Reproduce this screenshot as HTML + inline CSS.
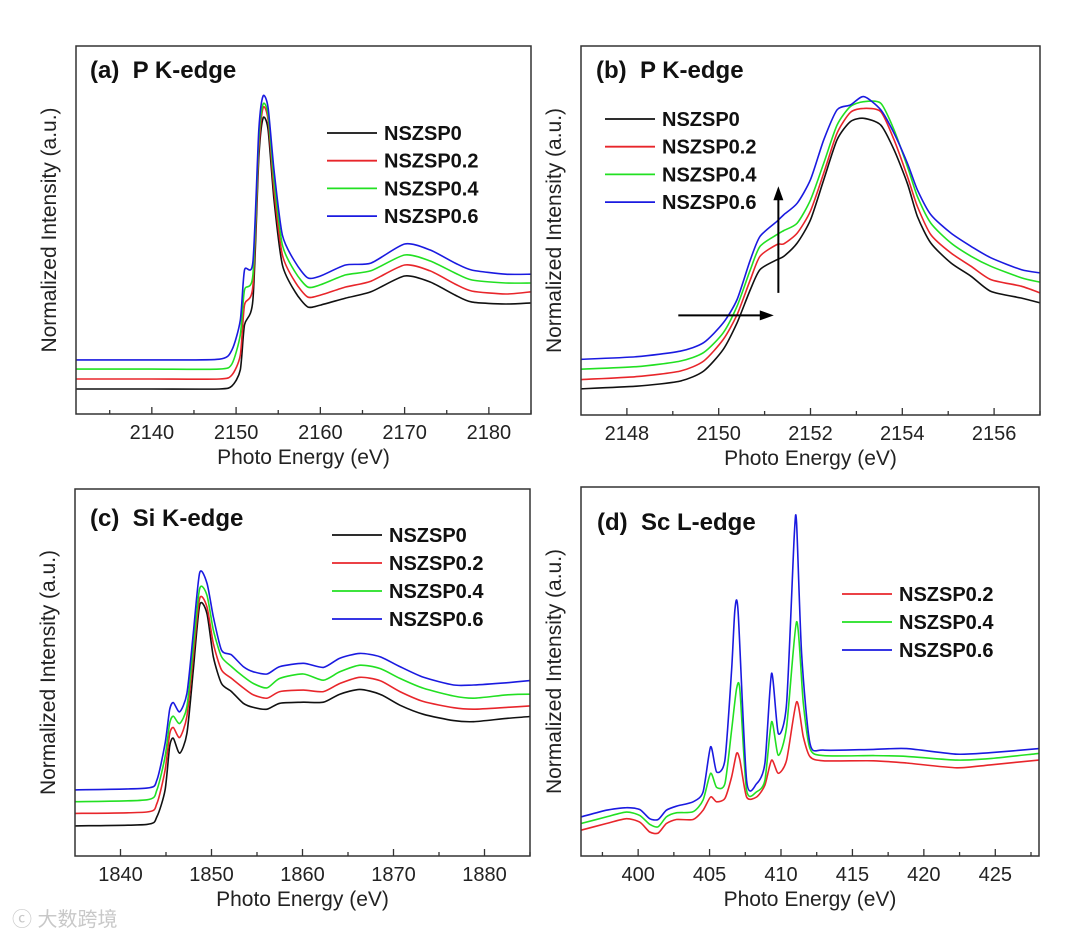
<!DOCTYPE html>
<html><head><meta charset="utf-8"><style>
html,body{margin:0;padding:0;background:#fff;}
svg{display:block;font-family:"Liberation Sans",Arial,sans-serif;}
</style></head><body>
<svg id="fig" width="1080" height="939" viewBox="0 0 1080 939" xmlns="http://www.w3.org/2000/svg">
<text x="12" y="926" font-family="'Liberation Sans','Noto Sans CJK SC',sans-serif" font-size="20" fill="#c8c8c8">ⓒ 大数跨境</text>
</svg>
<script>
// ---- Panel (a) P K-edge ----
const aX = [2131,2140,2148,2149.5,2150.5,2151,2152,2152.7,2153.2,2153.8,2154.5,2155.5,2157,2158.5,2160,2163,2166,2170,2173,2176,2178,2182,2185];
const aBlack = [6.8,6.8,6.8,7.6,12,24.2,31,69.6,80.4,77.2,58.2,40.5,33.2,29.1,29.6,31.5,33.2,37.5,35.9,32.3,30.4,29.9,30.2];
const aRed = [9.5,9.5,9.5,10.6,16,29.6,34.8,71.7,83.2,79.9,60.9,43.2,35.9,31.8,32.3,34.5,36.1,40.5,38.9,35.3,33.4,32.6,33.2];
const aGreen = [12.2,12.2,12.2,13.6,21.5,33.7,37.8,74.5,84.2,81.3,63.6,45.9,38.6,34.5,35.1,37.8,38.9,43.2,41.6,38.3,36.4,35.6,35.6];
const aBlue = [14.7,14.7,14.9,17.4,25.5,39.1,41.3,77.2,86.4,83.2,66.3,48.6,41.3,37,37.5,40.5,41,46.2,44.6,41,39.1,38,38];
const aTicks = [2140,2150,2160,2170,2180];
// ---- Panel (b) P K-edge zoom ----
const bX = [2147,2148.21,2149.16,2149.67,2150.1,2150.4,2150.69,2150.9,2151.27,2151.42,2151.71,2152,2152.29,2152.58,2152.87,2153.16,2153.53,2153.82,2154.11,2154.33,2154.62,2155.06,2155.5,2155.93,2156.59,2157];
const bBlack = [7.1,7.8,9.2,11.9,17.8,25,34,39.4,42.1,43,46.6,52.9,63.8,74.6,79.5,80.4,78.6,71.9,62.8,53.8,46.6,41.2,37.6,33.5,31.7,30.4];
const bRed = [9.6,10.4,11.9,14.6,20.5,27.2,36.7,43,46.2,46.4,49.3,55.3,65.6,76.4,82,83.1,82.2,74.6,64.7,56.5,48.9,43.9,40.3,36.7,34.9,33.1];
const bGreen = [12.4,13.1,14.6,16.9,22.3,29.5,39.4,45.7,48.9,50,52,58.3,68.3,78.6,83.6,84.9,84.5,77.3,67.4,59.2,52,46.6,43,40.3,37.2,36];
const bBlue = [15.1,15.8,17.3,19.6,25,31.3,42.1,48.4,52.5,54.3,57.4,63.8,74.6,82.7,84,86.3,82.7,76.4,68.3,61,54.3,49.3,45.7,42.6,39.4,38.5];
const bTicks = [2148,2150,2152,2154,2156];
// ---- Panel (c) Si K-edge ----
const cX = [1835,1842.9,1844,1844.9,1845.4,1845.8,1846.5,1847.3,1848,1848.7,1849.5,1850.2,1851.1,1852.2,1853.5,1854.6,1856.1,1857.5,1860.1,1862.3,1864.1,1866.3,1868.5,1870.7,1873.3,1876.6,1878.8,1882.4,1885];
const cBlack = [8.2,8.6,10.7,18,29.8,32.1,28,33.4,50.7,68.4,66.1,54.3,47,44.8,41.6,40.5,40,41.6,41.9,41.9,44.1,45.4,44.1,41.1,38.6,36.9,36.6,37.5,38];
const cRed = [11.6,12,14.3,23.4,33.2,35,32.3,38.1,54.5,70.2,67.9,57.9,50.7,48.4,45.8,43.9,43,44.8,45.2,44.8,47,48.7,47.8,44.8,42.1,40.4,40,40.5,40.9];
const cGreen = [14.8,15.3,18,27.1,36.1,38.1,36.1,40.7,57,72.9,71.1,61.6,54.3,51.6,48.9,47,45.8,48.4,49.6,47.9,50.2,52,51.1,48.4,45.7,43.6,43,43.9,44.1];
const cBlue = [18,18.5,20.7,30.7,39.8,41.8,39.3,44.3,60.7,77.2,74.4,65.2,56.1,54.8,51.6,50.2,49.6,51.6,52.5,51.4,53.9,55.2,54.3,51.6,48.7,46.6,46.6,47.2,47.8];
const cTicks = [1840,1850,1860,1870,1880];
// ---- Panel (d) Sc L-edge ----
const dX = [396,397.78,399.18,400.11,400.81,401.4,401.98,402.68,403.85,404.55,405.07,405.49,406.07,406.54,406.89,407.12,407.59,408.29,408.87,409.34,409.81,410.39,411.09,411.56,412.03,412.96,416.47,418.8,422.31,424.64,428.06];
const dRed = [7,8.8,10.1,9.2,6.5,6.2,8.8,9.9,9.9,12.4,16,14.7,15.6,21.4,27.8,26,16,16,19.2,26,22.4,26,41.8,32.3,26.9,25.8,25.8,25.2,23.9,24.7,26];
const dGreen = [8.8,10.6,11.9,11,8.6,7.9,10.6,11.7,12,15.2,22.4,18.6,19.6,34.1,45.4,45,17.8,17.4,20.5,36.4,27.3,35,63.5,41.4,29.1,27.2,27.2,27,26,26.4,27.8];
const dBlueX = [396,397.78,399.18,400.11,400.81,401.4,401.98,402.68,403.85,404.55,405.07,405.49,406.07,406.54,406.77,407,407.59,408.29,408.87,409.34,409.81,410.39,410.93,411.09,411.44,412.03,412.96,416.47,418.8,422.31,424.64,428.06];
const dBlue = [10.6,12.4,13.1,12.6,10.1,9.9,12.4,13.5,14.7,17.4,29.6,22.8,26,50.4,66.7,66.3,20.5,19.6,25.1,49.5,33.2,41.4,87.1,90.2,54.9,30.5,28.7,28.9,29.1,27.6,28,29.1];
const dTicks = [400,405,410,415,420,425];
const names4 = ['NSZSP0','NSZSP0.2','NSZSP0.4','NSZSP0.6'];
const names3 = ['NSZSP0.2','NSZSP0.4','NSZSP0.6'];

const NS='http://www.w3.org/2000/svg';
const svg=document.getElementById('fig');
function mk(tag,attrs,parent){const e=document.createElementNS(NS,tag);for(const k in attrs)e.setAttribute(k,attrs[k]);(parent||svg).appendChild(e);return e;}
const COL={k:'#111',r:'#e8262b',g:'#22e022',b:'#1a1ae0'};

function smoothPath(pts){
  let d='M'+pts[0][0].toFixed(1)+','+pts[0][1].toFixed(1);
  const t=0.12;
  for(let i=0;i<pts.length-1;i++){
    const p0=pts[Math.max(0,i-1)],p1=pts[i],p2=pts[i+1],p3=pts[Math.min(pts.length-1,i+2)];
    const c1x=p1[0]+(p2[0]-p0[0])*t,c1y=p1[1]+(p2[1]-p0[1])*t;
    const c2x=p2[0]-(p3[0]-p1[0])*t,c2y=p2[1]-(p3[1]-p1[1])*t;
    d+='C'+c1x.toFixed(1)+','+c1y.toFixed(1)+' '+c2x.toFixed(1)+','+c2y.toFixed(1)+' '+p2[0].toFixed(1)+','+p2[1].toFixed(1);
  }
  return d;
}

function panel(p){
  const g=mk('g',{});
  
  
  const W=p.R-p.L,H=p.B-p.T;
  const sx=v=>p.L+(v-p.x0)/(p.x1-p.x0)*W;
  const sy=v=>p.B-v/100*H;
  p.series.forEach(s=>{
    const pts=s.x.map((xv,i)=>[sx(xv),sy(s.y[i])]);
    const path=mk('path',{d:smoothPath(pts),fill:'none',stroke:s.c,'stroke-width':1.6,'stroke-linejoin':'round'},g);
    
    
  });
  const fr=mk('rect',{x:p.L,y:p.T,width:W,height:H,fill:'none',stroke:'#333','stroke-width':1.5},g);
  
  
  const step=p.ticks[1]-p.ticks[0];
  for(let v=p.ticks[0]-step;v<=p.x1;v+=step/2){
    if(v<=p.x0)continue;
    const major=p.ticks.includes(Math.round(v*100)/100);
    mk('line',{x1:sx(v),x2:sx(v),y1:p.B,y2:p.B-(major?7:4),stroke:'#333','stroke-width':1.3},g);
  }
  p.ticks.forEach(v=>{
    const t=mk('text',{x:sx(v),y:p.B+25,'text-anchor':'middle','font-size':20,fill:'#222'},g);
    t.textContent=v;
    
    
  });
  const xt=mk('text',{x:(p.L+p.R)/2,y:p.B+50,'text-anchor':'middle','font-size':21,fill:'#222'},g);
  xt.textContent='Photo Energy (eV)';
  
  
  const yc=(p.T+p.B)/2, yx=p.L-20;
  const yt=mk('text',{x:yx,y:yc,'text-anchor':'middle','font-size':21,fill:'#222',transform:'rotate(-90 '+yx+' '+yc+')'},g);
  yt.textContent='Normalized Intensity (a.u.)';
  
  
  const tt=mk('text',{x:p.tx,y:p.ty,'font-size':24,'font-weight':'bold',fill:'#111'},g);
  tt.textContent=p.title;
  
  
  p.series.forEach((s,i)=>{
    const y=p.ly+i*p.ld;
    const lg=mk('g',{},g);
    
    
    mk('line',{x1:p.lx,x2:p.lx+50,y1:y,y2:y,stroke:s.c,'stroke-width':1.8},lg);
    const lt=mk('text',{x:p.lx+57,y:y+7,'font-size':20,'font-weight':'bold',fill:'#111'},lg);
    lt.textContent=s.n;
  });
  return {sx,sy,g};
}

panel({id:'a',L:76,R:531,T:46,B:414,x0:2131,x1:2185,ticks:aTicks,title:'(a)\u00a0\u00a0P K-edge',tx:90,ty:78,lx:327,ly:133,ld:27.7,
  series:[{x:aX,y:aBlack,c:COL.k,n:names4[0]},{x:aX,y:aRed,c:COL.r,n:names4[1]},{x:aX,y:aGreen,c:COL.g,n:names4[2]},{x:aX,y:aBlue,c:COL.b,n:names4[3]}]});
const pb=panel({id:'b',L:581,R:1040,T:46,B:415,x0:2147,x1:2157,ticks:bTicks,title:'(b)\u00a0\u00a0P K-edge',tx:596,ty:78,lx:605,ly:119,ld:27.7,
  series:[{x:bX,y:bBlack,c:COL.k,n:names4[0]},{x:bX,y:bRed,c:COL.r,n:names4[1]},{x:bX,y:bGreen,c:COL.g,n:names4[2]},{x:bX,y:bBlue,c:COL.b,n:names4[3]}]});
(function(){
  const h=mk('g',{},pb.g);
  
  
  const y=pb.sy(27),x1=pb.sx(2149.12),x2=pb.sx(2151.2);
  mk('line',{x1:x1,x2:x2-10,y1:y,y2:y,stroke:'#000','stroke-width':2},h);
  mk('polygon',{points:(x2)+','+y+' '+(x2-14)+','+(y-5)+' '+(x2-14)+','+(y+5),fill:'#000'},h);
  const v=mk('g',{},pb.g);
  
  
  const x=pb.sx(2151.3),ya=pb.sy(33.1),yb=pb.sy(62);
  mk('line',{x1:x,x2:x,y1:ya,y2:yb+10,stroke:'#000','stroke-width':2},v);
  mk('polygon',{points:x+','+yb+' '+(x-5)+','+(yb+14)+' '+(x+5)+','+(yb+14),fill:'#000'},v);
})();
panel({id:'c',L:75,R:530,T:489,B:856,x0:1835,x1:1885,ticks:cTicks,title:'(c)\u00a0\u00a0Si K-edge',tx:90,ty:526,lx:332,ly:535,ld:28,
  series:[{x:cX,y:cBlack,c:COL.k,n:names4[0]},{x:cX,y:cRed,c:COL.r,n:names4[1]},{x:cX,y:cGreen,c:COL.g,n:names4[2]},{x:cX,y:cBlue,c:COL.b,n:names4[3]}]});
panel({id:'d',L:581,R:1039,T:487,B:856,x0:396,x1:428.06,ticks:dTicks,title:'(d)\u00a0\u00a0Sc L-edge',tx:597,ty:530,lx:842,ly:594,ld:28,
  series:[{x:dX,y:dRed,c:COL.r,n:names3[0]},{x:dX,y:dGreen,c:COL.g,n:names3[1]},{x:dBlueX,y:dBlue,c:COL.b,n:names3[2]}]});
</script>
</body></html>
